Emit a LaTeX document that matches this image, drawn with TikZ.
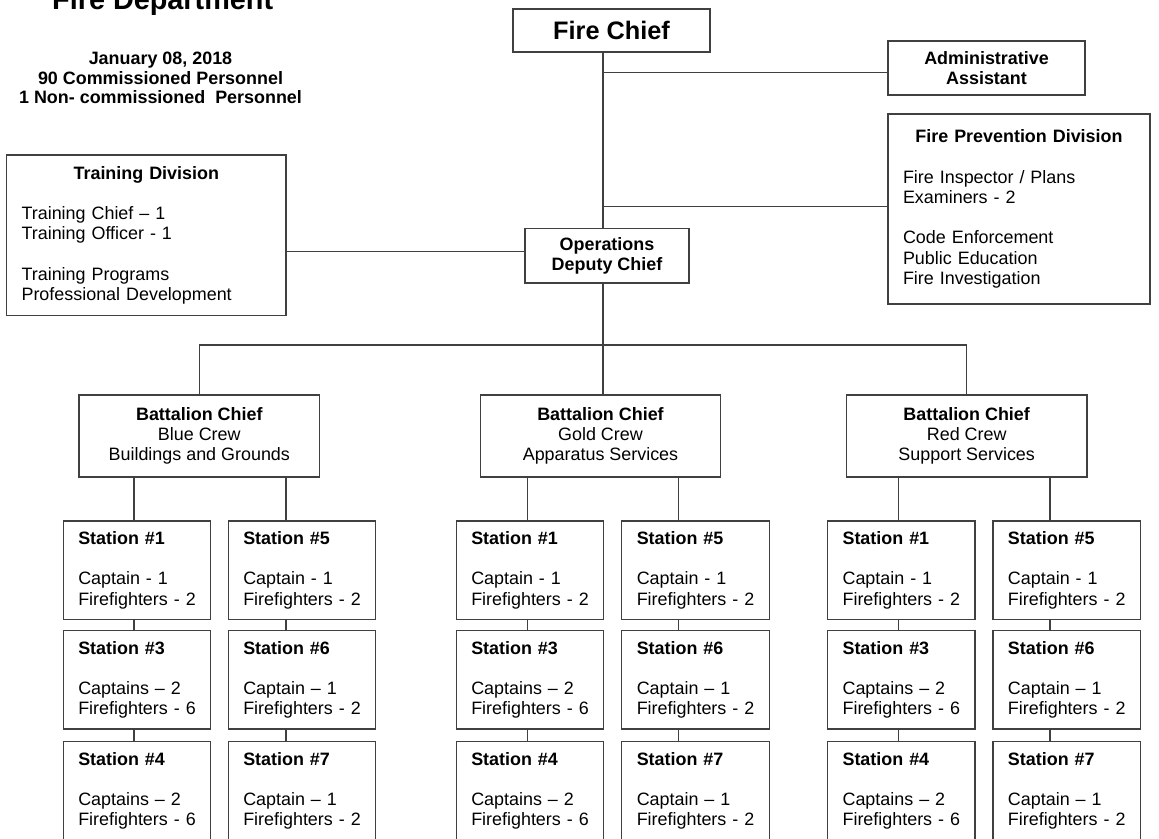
\documentclass[tikz,border=0pt]{standalone}
\usepackage{fontspec}
\setmainfont{Liberation Sans}
\usetikzlibrary{positioning}

\newcommand{\orgfont}{\fontsize{10.2}{11.5}\selectfont}
\newcommand{\stnone}[1]{\textbf{Station \##1}\\[11.5pt]\mbox{Captain - 1}\\\mbox{Firefighters - 2}}
\newcommand{\stntwo}[1]{\textbf{Station \##1}\\[11.5pt]\mbox{Captains -- 2}\\\mbox{Firefighters - 6}}
\newcommand{\stnthree}[1]{\textbf{Station \##1}\\[11.5pt]\mbox{Captain -- 1}\\\mbox{Firefighters - 2}}

\begin{document}
\begin{tikzpicture}[x=0.02cm,y=-0.02cm]
\useasboundingbox (0,0) rectangle (1159,838);
\clip (0,0) rectangle (1159,838);

\node[anchor=base west,font=\fontsize{16.4}{18}\selectfont\bfseries] (title) at (46,10) {Fire Department};
\node[align=center,font=\fontsize{10.2}{11.2}\selectfont\bfseries] (date) at (160.5,78)
    {January 08, 2018\\90 Commissioned Personnel\\1 Non- commissioned\ \ Personnel};

\begin{scope}[every node/.style={draw=black!75,line width=0.8pt,inner sep=0pt,font=\orgfont}]
    \node[minimum width=3.94cm,minimum height=0.86cm,font=\fontsize{14.4}{16}\selectfont\bfseries] (chief) at (611.5,30.5) {Fire Chief};
    \node[minimum width=3.94cm,minimum height=1.08cm,align=center,font=\orgfont\bfseries] (admin) at (986.5,68) {Administrative\\Assistant};
    \node[minimum width=5.24cm,minimum height=3.8cm,text width=4.64cm,align=left] (prev) at (1019,209)
        {\makebox[4.64cm]{\bfseries Fire Prevention Division}\\[11.5pt]Fire Inspector / Plans\\Examiners - 2\\[11.5pt]Code Enforcement\\Public Education\\Fire Investigation};
    \node[minimum width=5.59cm,minimum height=3.21cm,text width=4.99cm,align=left] (train) at (146.3,235.3)
        {\makebox[4.99cm]{\bfseries Training Division}\\[11.5pt]Training Chief -- 1\\Training Officer - 1\\[11.5pt]Training Programs\\Professional Development};
    \node[minimum width=3.28cm,minimum height=1.1cm,align=center,font=\orgfont\bfseries] (ops) at (607,255.7) {Operations\\Deputy Chief};
\end{scope}

% battalions
\begin{scope}[every node/.style={draw=black!75,line width=0.8pt,inner sep=0pt,font=\orgfont,
              minimum width=4.81cm,minimum height=1.64cm,align=center}]
    \node (blue) at (199.3,436) {\textbf{Battalion Chief}\\Blue Crew\\Buildings and Grounds};
    \node (gold) at (600.5,436) {\textbf{Battalion Chief}\\Gold Crew\\Apparatus Services};
    \node (red) at (966.7,436) {\textbf{Battalion Chief}\\Red Crew\\Support Services};
\end{scope}

% stations
\begin{scope}[every node/.style={draw=black!75,line width=0.8pt,inner sep=0pt,font=\orgfont,
              minimum width=2.95cm,minimum height=1.97cm,text width=2.35cm,align=left}]
    \node (b1) at (137,570.2) {\stnone{1}};
    \node (b3) at (137,679.9) {\stntwo{3}};
    \node (b4) at (137,791) {\stntwo{4}};
    \node (b5) at (302,570.2) {\stnone{5}};
    \node (b6) at (302,679.9) {\stnthree{6}};
    \node (b7) at (302,791) {\stnthree{7}};
    \node (g1) at (530,570.2) {\stnone{1}};
    \node (g3) at (530,679.9) {\stntwo{3}};
    \node (g4) at (530,791) {\stntwo{4}};
    \node (g5) at (695.5,570.2) {\stnone{5}};
    \node (g6) at (695.5,679.9) {\stnthree{6}};
    \node (g7) at (695.5,791) {\stnthree{7}};
    \node (r1) at (901.3,570.2) {\stnone{1}};
    \node (r3) at (901.3,679.9) {\stntwo{3}};
    \node (r4) at (901.3,791) {\stntwo{4}};
    \node (r5) at (1066.7,570.2) {\stnone{5}};
    \node (r6) at (1066.7,679.9) {\stnthree{6}};
    \node (r7) at (1066.7,791) {\stnthree{7}};
\end{scope}

\coordinate (spine) at (603,0);
\coordinate (bus) at (0,345);
\coordinate (jadmin) at (603,72.3);
\coordinate (jprev) at (603,206.7);
\coordinate (jtrain) at (0,251.7);
\coordinate (bl) at (134,0);
\coordinate (br) at (286,0);
\coordinate (gl) at (527.3,0);
\coordinate (gr) at (678.7,0);
\coordinate (rl) at (898.7,0);
\coordinate (rr) at (1050,0);

\begin{scope}[every edge/.style={draw=black!75,line width=0.8pt}]
    \path [-] (chief.south -| spine) edge (ops.north -| spine);
    \path [-] (jadmin) edge (jadmin -| admin.west);
    \path [-] (jprev) edge (jprev -| prev.west);
    \path [-] (train.east |- jtrain) edge (ops.west |- jtrain);
    \path [-] (ops.south -| spine) edge (gold.north -| spine);
    \path [-] (blue.north) edge (blue.north |- bus);
    \path [-] (blue.north |- bus) edge (red.north |- bus);
    \path [-] (red.north |- bus) edge (red.north);

    \path [-] (blue.south -| bl) edge (b1.north -| bl);
    \path [-] (b1.south -| bl) edge (b3.north -| bl);
    \path [-] (b3.south -| bl) edge (b4.north -| bl);
    \path [-] (blue.south -| br) edge (b5.north -| br);
    \path [-] (b5.south -| br) edge (b6.north -| br);
    \path [-] (b6.south -| br) edge (b7.north -| br);

    \path [-] (gold.south -| gl) edge (g1.north -| gl);
    \path [-] (g1.south -| gl) edge (g3.north -| gl);
    \path [-] (g3.south -| gl) edge (g4.north -| gl);
    \path [-] (gold.south -| gr) edge (g5.north -| gr);
    \path [-] (g5.south -| gr) edge (g6.north -| gr);
    \path [-] (g6.south -| gr) edge (g7.north -| gr);

    \path [-] (red.south -| rl) edge (r1.north -| rl);
    \path [-] (r1.south -| rl) edge (r3.north -| rl);
    \path [-] (r3.south -| rl) edge (r4.north -| rl);
    \path [-] (red.south -| rr) edge (r5.north -| rr);
    \path [-] (r5.south -| rr) edge (r6.north -| rr);
    \path [-] (r6.south -| rr) edge (r7.north -| rr);
\end{scope}
\end{tikzpicture}
\end{document}
